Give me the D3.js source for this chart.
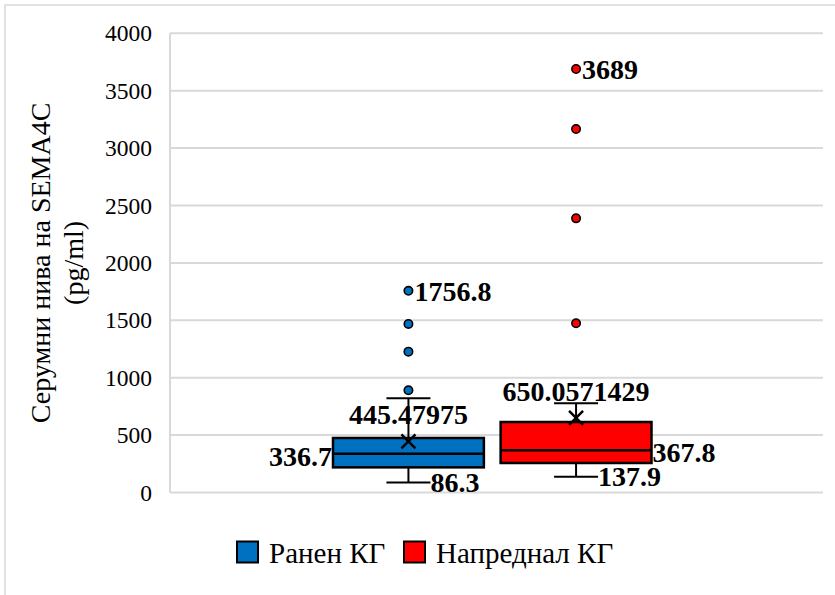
<!DOCTYPE html>
<html>
<head>
<meta charset="utf-8">
<script src="https://cdn.jsdelivr.net/npm/d3@7"></script>
<style>
  html, body { margin: 0; padding: 0; background: #fff; }
  svg { display: block; }
  svg text { font-family: 'Liberation Serif', 'Times New Roman', serif; }
</style>
</head>
<body>
<svg id="chart" width="835" height="595"></svg>
<script>
// Serum SEMA4C levels by gastric cancer stage: box-and-whisker summary
const groups      = ["Ранен КГ", "Напреднал КГ"];
const colors      = ["#0070C0", "#FF0000"];
const whiskerLow  = [86.3, 137.9];
const q1          = [219, 257];
const median      = [336.7, 367.8];
const q3          = [475, 614];
const whiskerHigh = [820, 777];
const means       = [445.47975, 650.0571429];
const outliers    = [[890, 1227, 1468, 1756.8], [1474, 2388, 3166, 3689]];
const yTicks      = [0, 500, 1000, 1500, 2000, 2500, 3000, 3500, 4000];
const yTitle      = ["Серумни нива на SEMA4C", "(pg/ml)"];

const svg = d3.select("#chart");
const grid = "#d9d9d9";

// chart frame
svg.append("rect")
  .attr("x", 5).attr("y", 5).attr("width", 840).attr("height", 600)
  .attr("fill", "none").attr("stroke", grid).attr("stroke-width", 1.5);

const plot = { left: 170, right: 823, top: 33.3, bottom: 492.5 };

const y = d3.scaleLinear().domain([0, 4000]).range([plot.bottom, plot.top]);
const x = d3.scaleBand().domain(groups).range([333, 651.5]).paddingInner(0.1);

// gridlines
svg.append("g").selectAll("line").data(yTicks).join("line")
  .attr("x1", plot.left).attr("x2", plot.right)
  .attr("y1", d => y(d)).attr("y2", d => y(d))
  .attr("stroke", grid).attr("stroke-width", 2);

// left axis line
svg.append("line")
  .attr("x1", plot.left).attr("x2", plot.left)
  .attr("y1", plot.top).attr("y2", plot.bottom)
  .attr("stroke", grid).attr("stroke-width", 2);

// y tick labels
const yAxis = d3.axisLeft(y).tickValues(yTicks).tickSize(0).tickPadding(18)
  .tickFormat(d3.format("d"));
const ya = svg.append("g").attr("transform", `translate(${plot.left},0)`).call(yAxis);
ya.select(".domain").remove();
ya.attr("font-family", null).attr("font-size", null);
ya.selectAll("text").style("font-size", "23.5px").attr("fill", "#000");

// y title (two lines, rotated)
const yt = svg.append("text")
  .attr("transform", `translate(40, ${(plot.top + plot.bottom) / 2}) rotate(-90)`)
  .attr("text-anchor", "middle")
  .style("font-size", "28px").attr("fill", "#000");
yt.selectAll("tspan").data(yTitle).join("tspan")
  .attr("x", 0).attr("dy", (d, i) => i === 0 ? "0.35em" : 33)
  .text(d => d);

// boxes
const bw = x.bandwidth();
const capW = 44;
groups.forEach((g, i) => {
  const cx = x(g) + bw / 2;
  const layer = svg.append("g");

  // whisker stems and caps
  layer.append("line")
    .attr("x1", cx).attr("x2", cx).attr("y1", y(q3[i])).attr("y2", y(whiskerHigh[i]))
    .attr("stroke", "#000").attr("stroke-width", 2);
  layer.append("line")
    .attr("x1", cx).attr("x2", cx).attr("y1", y(q1[i])).attr("y2", y(whiskerLow[i]))
    .attr("stroke", "#000").attr("stroke-width", 2);
  [whiskerHigh[i], whiskerLow[i]].forEach(v => {
    layer.append("line")
      .attr("x1", cx - capW / 2).attr("x2", cx + capW / 2)
      .attr("y1", y(v)).attr("y2", y(v))
      .attr("stroke", "#000").attr("stroke-width", 2);
  });

  // interquartile box
  layer.append("rect")
    .attr("x", x(g)).attr("width", bw)
    .attr("y", y(q3[i])).attr("height", y(q1[i]) - y(q3[i]))
    .attr("fill", colors[i]).attr("stroke", "#000").attr("stroke-width", 2.5);

  // median
  layer.append("line")
    .attr("x1", x(g)).attr("x2", x(g) + bw)
    .attr("y1", y(median[i])).attr("y2", y(median[i]))
    .attr("stroke", "#000").attr("stroke-width", 2.5);

  // mean marker
  const m = 7, my = y(means[i]);
  layer.append("path")
    .attr("d", `M${cx - m},${my - m}L${cx + m},${my + m}M${cx - m},${my + m}L${cx + m},${my - m}`)
    .attr("stroke", "#000").attr("stroke-width", 2.5).attr("fill", "none");

  // outliers
  layer.selectAll("circle").data(outliers[i]).join("circle")
    .attr("cx", cx).attr("cy", d => y(d)).attr("r", 4.2)
    .attr("fill", colors[i]).attr("stroke", "#000").attr("stroke-width", 1.6);

  // value labels
  const lab = (txt, lx, ly, anchor) => layer.append("text")
    .attr("x", lx).attr("y", ly).attr("dy", "0.35em")
    .attr("text-anchor", anchor)
    .style("font-weight", "bold").style("font-size", "28px")
    .attr("fill", "#000")
    .text(txt);

  const maxOut = d3.max(outliers[i]);
  lab(String(maxOut), cx + 6, y(maxOut), "start");
  lab(String(means[i]), cx, my - 27, "middle");
  lab(String(whiskerLow[i]), cx + capW / 2, y(whiskerLow[i]), "start");
  if (i === 0) lab(String(median[i]), x(g) - 1, y(median[i]) + 2, "end");
  else lab(String(median[i]), x(g) + bw + 1, y(median[i]) + 2, "start");
});

// legend
const legend = svg.append("g");
const legendX = [237, 404];
groups.forEach((g, i) => {
  legend.append("rect")
    .attr("x", legendX[i]).attr("y", 541.5).attr("width", 21).attr("height", 21)
    .attr("fill", colors[i]).attr("stroke", "#000").attr("stroke-width", 2);
  legend.append("text")
    .attr("x", legendX[i] + 32).attr("y", 562.5)
    .style("font-size", "29px").attr("fill", "#000")
    .text(g);
});
</script>
</body>
</html>
